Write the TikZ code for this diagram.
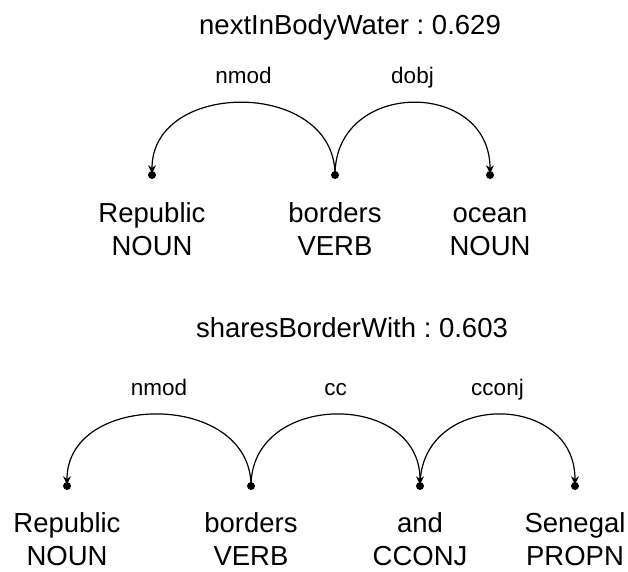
\documentclass[tikz,border=0pt]{standalone}
\usepackage{fontspec}
\setmainfont{Liberation Sans}
\usetikzlibrary{arrows.meta,positioning}
\frenchspacing

\begin{document}
\begin{tikzpicture}[x=1pt,y=-1pt,
  dot/.style={circle,fill=black,inner sep=0pt,minimum size=8pt},
  word/.style={align=center,font=\fontsize{27.5}{33}\selectfont,inner sep=0pt},
  title/.style={font=\fontsize{27.5}{32}\selectfont,anchor=base},
  rel/.style={font=\fontsize{22.5}{26}\selectfont,anchor=base,yshift=18.5pt},
  arr/.style={-{Stealth[length=8pt,width=8pt]},line width=1.2pt,shorten >=-2.5pt}
]
  \useasboundingbox (0,0) rectangle (628,571);
  % first parse
  \node[title] (t1) at (350,34) {nextInBodyWater : 0.629};
  \node[dot] (rep1) at (152,175) {};
  \node[dot] (bor1) at (335,175) {};
  \node[dot] (oce1) at (490,175) {};
  \node[word,below=19.5pt of rep1] (repw1) {\strut Republic\\NOUN};
  \node[word,below=19.5pt of bor1] (borw1) {\strut borders\\VERB};
  \node[word,below=19.5pt of oce1] (ocew1) {\strut ocean\\NOUN};
  \draw[arr] (bor1.center) .. controls +(0,-96) and +(0,-96) .. node[midway,rel] {nmod} (rep1);
  \draw[arr] (bor1.center) .. controls +(0,-96) and +(0,-96) .. node[midway,rel] {dobj} (oce1);

  % second parse
  \node[title] (t2) at (352,337) {sharesBorderWith : 0.603};
  \node[dot] (rep2) at (67,486) {};
  \node[dot] (bor2) at (251,486) {};
  \node[dot] (and2) at (420,486) {};
  \node[dot] (sen2) at (575,486) {};
  \node[word,below=19pt of rep2] (repw2) {\strut Republic\\NOUN};
  \node[word,below=19pt of bor2] (borw2) {\strut borders\\VERB};
  \node[word,below=19pt of and2] (andw2) {\strut and\\CCONJ};
  \node[word,below=19pt of sen2] (senw2) {\strut Senegal\\PROPN};
  \draw[arr] (bor2.center) .. controls +(0,-95) and +(0,-95) .. node[midway,rel] {nmod} (rep2);
  \draw[arr] (bor2.center) .. controls +(0,-95) and +(0,-95) .. node[midway,rel] {cc} (and2);
  \draw[arr] (and2.center) .. controls +(0,-95) and +(0,-95) .. node[midway,rel] {cconj} (sen2);
\end{tikzpicture}
\end{document}
